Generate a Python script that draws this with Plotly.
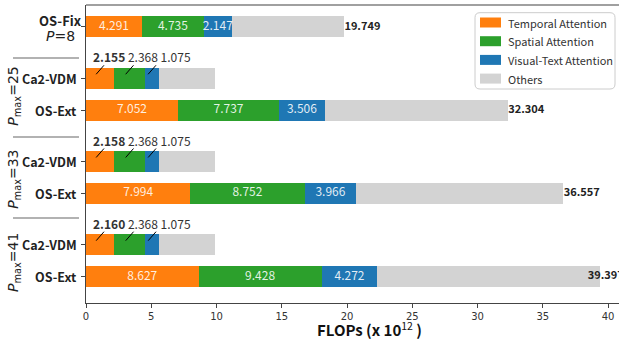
import plotly.graph_objects as go

# Rows from bottom to top: OS-Ext / Ca2-VDM for each P_max, then OS-Fix (P=8)
row_names = ["OS-Ext", "Ca2-VDM", "OS-Ext", "Ca2-VDM", "OS-Ext", "Ca2-VDM", "OS-Fix"]
row_pos = [0, 1, 2.6, 3.6, 5.2, 6.2, 7.8]
is_ca2 = [False, True, False, True, False, True, False]

# FLOPs (x 10^12) per component
temporal = [8.627, 2.160, 7.994, 2.158, 7.052, 2.155, 4.291]
spatial = [9.428, 2.368, 8.752, 2.368, 7.737, 2.368, 4.735]
visual_text = [4.272, 1.075, 3.966, 1.075, 3.506, 1.075, 2.147]
totals = [39.397, 9.86, 36.557, 9.86, 32.304, 9.86, 19.749]
others = [round(t - a - b - c, 3) for t, a, b, c in zip(totals, temporal, spatial, visual_text)]

p_max_groups = [41, 33, 25]
series_names = ["Temporal Attention", "Spatial Attention", "Visual-Text Attention", "Others"]
series_values = [temporal, spatial, visual_text, others]
colors = ["#ff7f0e", "#2ca02c", "#1f77b4", "#d3d3d3"]

x_ticks = [0, 5, 10, 15, 20, 25, 30, 35, 40]

FONT = "Noto Sans CJK SC"
L, R, T, B = 86, 0, 5, 36
W, H = 619, 339
PW, PH = W - L - R, H - T - B
Y0, Y1 = -0.828, 8.484
X1 = 40.84


def px_x(p):
    return (p - L) / PW


def px_y(p):
    return (H - B - p) / PH


fig = go.Figure()

# stacked bars
for name, vals, col in zip(series_names, series_values, colors):
    fig.add_trace(go.Bar(
        y=row_pos, x=vals, orientation="h", name=name, width=0.66,
        marker=dict(color=col, line=dict(width=0)), showlegend=False,
        hoverinfo="skip",
    ))

# values inside the first three segments (OS rows)
starts = [0.0] * len(row_pos)
for vals in series_values[:3]:
    xs, ys, txt = [], [], []
    for i, v in enumerate(vals):
        if not is_ca2[i]:
            xs.append(starts[i] + v / 2)
            ys.append(row_pos[i])
            txt.append(f"{v:.3f}")
    fig.add_trace(go.Scatter(
        x=xs, y=ys, text=txt, mode="text", textposition="middle center",
        textfont=dict(family=FONT, size=12, color="rgba(255,255,255,0.88)"),
        showlegend=False, hoverinfo="skip", cliponaxis=False,
    ))
    seg_centers = [s + v / 2 for s, v in zip(starts, vals)]
    # leader lines above Ca2-VDM segments
    for i, v in enumerate(vals):
        if is_ca2[i]:
            c = seg_centers[i]
            fig.add_shape(type="line", xref="x", yref="y",
                          x0=c - 0.3, y0=row_pos[i] + 0.12,
                          x1=c + 0.3, y1=row_pos[i] + 0.40,
                          line=dict(color="black", width=1))
    starts = [s + v for s, v in zip(starts, vals)]

# Ca2-VDM component values above the bar
for i in range(len(row_pos)):
    if is_ca2[i]:
        fig.add_annotation(
            x=0.36, y=row_pos[i] + 0.66, xref="x", yref="y",
            xanchor="left", yanchor="middle", showarrow=False,
            text=f"<b>{temporal[i]:.3f}</b> {spatial[i]:.3f} {visual_text[i]:.3f}",
            font=dict(family=FONT, size=12, color="#333333"),
        )

# totals to the right of the OS bars
tx, ty, tt = [], [], []
for i in range(len(row_pos)):
    if not is_ca2[i]:
        tx.append(min(totals[i] + 0.05, 38.45))
        ty.append(row_pos[i])
        tt.append(f"<b>{totals[i]:.3f}</b>")
fig.add_trace(go.Scatter(
    x=tx, y=ty, text=tt, mode="text", textposition="middle right",
    textfont=dict(family=FONT, size=11, color="#222222"),
    showlegend=False, hoverinfo="skip", cliponaxis=False,
))

# row labels
for i, name in enumerate(row_names):
    if name == "OS-Fix":
        fig.add_annotation(x=px_x(60), y=row_pos[i] + 0.2, xref="paper", yref="y",
                           xanchor="center", yanchor="middle", showarrow=False,
                           text=f"<b>{name}</b>",
                           font=dict(family=FONT, size=13, color="#222222"))
        fig.add_annotation(x=px_x(60), y=row_pos[i] - 0.27, xref="paper", yref="y",
                           xanchor="center", yanchor="middle", showarrow=False,
                           text="<i>P</i>=8",
                           font=dict(family="DejaVu Sans", size=14, color="#222222"))
    else:
        fig.add_annotation(x=px_x(79), y=row_pos[i], xref="paper", yref="y",
                           xanchor="right", yanchor="middle", showarrow=False,
                           text=f"<b>{name}</b>",
                           font=dict(family=FONT, size=12.5, color="#222222"))

# group labels P_max and separators
for k, pm in enumerate(p_max_groups):
    ymid = (row_pos[2 * k] + row_pos[2 * k + 1]) / 2 - 0.08
    fig.add_annotation(x=px_x(14), y=ymid, xref="paper", yref="y",
                       xanchor="center", yanchor="middle", showarrow=False,
                       textangle=-90,
                       text=f"<i>P</i><sub>max</sub>={pm}",
                       font=dict(family="DejaVu Sans", size=14, color="#222222"))
for ysep in [1.83, 4.36, 6.83]:
    fig.add_shape(type="line", xref="paper", yref="y",
                  x0=px_x(13), x1=px_x(79), y0=ysep, y1=ysep,
                  line=dict(color="#999999", width=1.5))

# top frame line
fig.add_shape(type="line", xref="paper", yref="paper", x0=0, x1=1, y0=1, y1=1,
              line=dict(color="#a0a0a0", width=2))

# legend
bx0, bx1, by0, by1 = px_x(475), px_x(615), px_y(89), px_y(12.7)
rx, ry = 5 / PW, 5 / PH
legend_path = (
    f"M {bx0 + rx},{by0} L {bx1 - rx},{by0} Q {bx1},{by0} {bx1},{by0 + ry} "
    f"L {bx1},{by1 - ry} Q {bx1},{by1} {bx1 - rx},{by1} "
    f"L {bx0 + rx},{by1} Q {bx0},{by1} {bx0},{by1 - ry} "
    f"L {bx0},{by0 + ry} Q {bx0},{by0} {bx0 + rx},{by0} Z"
)
fig.add_shape(type="path", xref="paper", yref="paper", path=legend_path,
              fillcolor="rgba(255,255,255,0.85)", line=dict(color="#cccccc", width=1))
for j, (name, col) in enumerate(zip(series_names, colors)):
    cy = 22.5 + j * 18.7
    fig.add_shape(type="rect", xref="paper", yref="paper",
                  x0=px_x(480), x1=px_x(501), y0=px_y(cy + 5), y1=px_y(cy - 5),
                  fillcolor=col, line=dict(width=0))
    fig.add_annotation(x=px_x(505.5), y=px_y(cy), xref="paper", yref="paper",
                       xanchor="left", yanchor="middle", showarrow=False, text=name,
                       font=dict(family=FONT, size=11, color="#333333"))

# x-axis title
fig.add_annotation(x=px_x(369), y=px_y(329), xref="paper", yref="paper",
                   xanchor="center", yanchor="middle", showarrow=False,
                   text="<b>FLOPs (x 10</b><sup>12</sup><b> )</b>",
                   font=dict(family=FONT, size=15, color="#111111"))

fig.update_layout(
    width=W, height=H, margin=dict(l=L, r=R, t=T, b=B),
    barmode="stack", bargap=0, plot_bgcolor="white", paper_bgcolor="white",
    showlegend=False,
    xaxis=dict(range=[0, X1], tickvals=x_ticks, ticks="outside", ticklen=4,
               tickcolor="#444444", showgrid=False, zeroline=False,
               showline=True, linecolor="#444444", linewidth=1.2,
               tickfont=dict(family="DejaVu Sans", size=10, color="#333333")),
    yaxis=dict(range=[Y0, Y1], tickvals=row_pos, showticklabels=False,
               ticks="outside", ticklen=4, tickcolor="#444444",
               showgrid=False, zeroline=False, showline=True,
               linecolor="#444444", linewidth=1.2),
)

fig.write_html("out.html")
